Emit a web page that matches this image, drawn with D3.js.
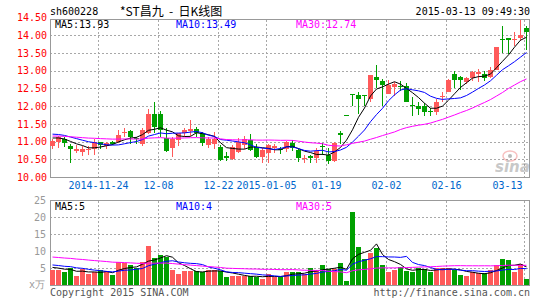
<!DOCTYPE html>
<html>
<head>
<meta charset="utf-8">
<script src="https://cdn.jsdelivr.net/npm/d3@7"></script>
<style>
body { margin: 0; background: #fff; }
text { font-family: "DejaVu Sans Mono", monospace; font-size: 10px; }
</style>
</head>
<body>
<div id="chart"></div>
<script>
// K line data (80 trading days, 2014-11-12 .. 2015-03-13)
var opens = [10.88,10.99,11.08,10.88,10.72,10.70,10.76,10.79,10.98,10.87,
  10.98,11.00,11.25,11.29,11.10,10.94,11.23,11.77,11.79,11.10,
  10.82,11.04,11.23,11.30,11.35,11.25,10.91,10.94,10.85,10.60,
  10.50,10.71,10.90,11.05,10.85,10.57,10.68,10.81,10.80,10.80,
  10.97,10.75,10.50,10.59,10.55,10.88,10.62,10.45,11.24,11.75,
  12.34,12.32,12.30,12.21,12.81,12.70,12.35,12.53,12.58,12.56,
  12.03,12.00,12.01,11.86,11.83,12.25,12.39,12.92,12.82,12.68,
  12.79,12.92,12.92,12.82,13.03,13.88,13.92,13.86,13.91,14.21];
var closes = [11.02,11.13,10.97,10.78,10.78,10.78,10.80,10.98,10.89,10.96,
  10.94,11.18,11.28,11.13,11.07,11.32,11.79,11.42,11.34,10.74,
  11.08,11.23,11.32,11.36,11.25,10.96,11.08,11.08,10.47,10.55,
  10.85,10.99,11.07,10.75,10.57,10.75,10.90,10.87,10.75,10.99,
  10.83,10.55,10.53,10.55,10.72,10.84,10.45,10.97,11.19,11.75,
  12.30,12.21,12.28,12.89,12.73,12.60,12.60,12.62,12.55,12.13,
  11.99,11.92,11.82,11.84,12.13,12.29,12.75,12.73,12.73,12.79,
  12.95,12.96,12.79,13.03,13.68,13.86,13.86,13.88,14.02,14.09];
var highs = [11.07,11.17,11.13,10.93,10.89,10.87,10.87,11.07,11.00,11.00,
  11.02,11.34,11.37,11.32,11.13,11.38,11.92,12.11,11.87,11.37,
  11.13,11.25,11.37,11.60,11.42,11.27,11.13,11.26,10.90,10.71,
  10.89,11.10,11.15,11.21,10.94,10.82,10.94,10.94,10.85,11.01,
  11.05,10.81,10.62,10.62,10.81,10.95,10.81,10.98,11.30,11.75,
  12.34,12.40,12.31,12.89,13.17,12.77,12.75,12.68,12.72,12.65,
  12.25,12.13,12.08,11.94,12.21,12.41,12.76,12.98,12.84,12.82,
  12.98,13.05,12.98,13.09,13.68,14.25,13.93,14.08,14.44,14.25];
var lows = [10.78,10.83,10.85,10.40,10.69,10.59,10.62,10.62,10.79,10.80,
  10.89,10.97,11.13,10.92,10.92,10.88,11.20,11.23,11.13,10.70,
  10.57,10.88,11.13,11.16,11.13,10.87,10.83,10.78,10.45,10.45,
  10.48,10.68,10.78,10.72,10.54,10.40,10.40,10.69,10.64,10.71,
  10.74,10.43,10.40,10.39,10.39,10.62,10.36,10.43,10.92,11.75,
  12.00,11.77,11.99,12.13,12.51,12.01,12.35,12.29,12.42,12.11,
  11.71,11.75,11.71,11.71,11.75,12.13,12.39,12.51,12.46,12.63,
  12.72,12.68,12.70,12.79,13.03,13.50,13.48,13.69,13.83,13.59];
// volume, 10k shares
var volumes = [4.4,4.4,3.8,5.1,2.6,4.6,3.2,3.8,4.3,4.0,
  2.9,6.8,6.4,5.8,4.9,6.7,11.5,8.1,8.8,8.3,
  4.4,3.2,4.1,4.1,4.0,3.9,4.4,4.4,4.1,2.3,
  2.6,2.6,2.6,2.7,2.5,1.8,3.2,2.5,2.5,3.8,
  3.9,3.9,3.3,5.0,4.4,6.0,4.8,4.6,6.5,1.3,
  21.6,11.3,7.6,9.5,10.8,5.9,3.9,4.4,5.4,4.2,
  3.9,4.9,4.6,3.9,4.9,5.1,5.1,4.4,2.9,2.6,
  3.9,3.6,3.6,4.4,5.9,7.6,7.4,3.9,6.2,1.8];

var tickIdx = [8, 18, 28, 36, 46, 56, 66, 79];
var tickLabels = ["2014-11-24", "12-08", "12-22", "2015-01-05", "01-19", "02-02", "02-16", "03-13"];
var priceTicks = [10, 10.5, 11, 11.5, 12, 12.5, 13, 13.5, 14, 14.5];
var volTicks = [5, 10, 15, 20, 25];

// moving averages, with the left edge value of each line as seed
var maDays = [5, 10, 30];
var maColors = ["#000000", "#0000ff", "#ff00ff"];
var priceSeed = [11.12, 11.23, 11.16];
var volSeed = [5.4, 6.1, 8.4];
var priceMaText = ["MA5:13.93", "MA10:13.49", "MA30:12.74"];
var volMaText = ["MA5:5", "MA10:4", "MA30:5"];

var svgWidth = 545, svgHeight = 300;
var left = 50, right = 530;

var svg = d3.select("#chart").append("svg")
  .attr("width", svgWidth)
  .attr("height", svgHeight);

var x = d3.scaleBand().domain(d3.range(closes.length)).range([left, right]);
var xLin = d3.scaleLinear().domain([0, closes.length]).range([left, right]);
var yPrice = d3.scaleLinear().domain([10, 14.5]).range([177, 17.5]);
var yVol = d3.scaleLinear().domain([0, 25]).range([285, 200.5]);

function movingAvg(vals, n, seed) {
  return vals.map(function(v, i) {
    var s = 0;
    for (var k = Math.max(0, i - n + 1); k <= i; k++) s += vals[k];
    if (i < n - 1) s += seed * (n - 1 - i);
    return s / n;
  });
}

function upColor(i) { return closes[i] > opens[i] ? "#ff5a5a" : "#00a000"; }

// ---------- grids and frames
function grid(yScale, vals, top, bottom) {
  var g = svg.append("g").attr("stroke", "#a8a8a8").attr("stroke-dasharray", "2,2")
    .attr("shape-rendering", "crispEdges");
  g.selectAll("line.h").data(vals).enter().append("line")
    .attr("x1", left).attr("x2", right)
    .attr("y1", d => Math.round(yScale(d)) + 0.5)
    .attr("y2", d => Math.round(yScale(d)) + 0.5);
  g.selectAll("line.v").data(tickIdx).enter().append("line")
    .attr("x1", d => xLin(d) + 0.5).attr("x2", d => xLin(d) + 0.5)
    .attr("y1", top).attr("y2", bottom);
}
grid(yPrice, [10.5, 11, 11.5, 12, 12.5, 13, 13.5, 14], 20, 177);
grid(yVol, [5, 10, 15, 20], 201, 285);

svg.append("rect").attr("x", left + 0.5).attr("y", 19.5).attr("width", right - left - 1).attr("height", 158)
  .attr("fill", "none").attr("stroke", "#999").attr("shape-rendering", "crispEdges");
svg.append("rect").attr("x", left + 0.5).attr("y", 200.5).attr("width", right - left - 1).attr("height", 85)
  .attr("fill", "none").attr("stroke", "#999").attr("shape-rendering", "crispEdges");

// sina watermark
var wm = svg.append("g").attr("opacity", 0.4);
wm.append("ellipse").attr("cx", 510).attr("cy", 156).attr("rx", 7).attr("ry", 5)
  .attr("fill", "none").attr("stroke", "#e66").attr("stroke-width", 1.5);
wm.append("circle").attr("cx", 510).attr("cy", 156).attr("r", 2).attr("fill", "#555");
wm.append("text").attr("x", 495).attr("y", 172).text("sina")
  .style("font-family", "DejaVu Sans").style("font-size", "15px")
  .style("font-weight", "bold").style("font-style", "italic").attr("fill", "#777");

// ---------- candles
var candles = svg.append("g").attr("shape-rendering", "crispEdges");
candles.selectAll("rect.wick").data(closes).enter().append("rect")
  .attr("x", (d, i) => x(i) + 2)
  .attr("width", 1)
  .attr("y", (d, i) => Math.round(yPrice(highs[i])))
  .attr("height", (d, i) => Math.max(1, Math.round(yPrice(lows[i])) - Math.round(yPrice(highs[i]))))
  .attr("fill", (d, i) => upColor(i));
candles.selectAll("rect.body").data(closes).enter().append("rect")
  .attr("x", (d, i) => x(i))
  .attr("width", 5)
  .attr("y", (d, i) => Math.round(yPrice(Math.max(opens[i], d))))
  .attr("height", (d, i) => Math.max(1, Math.round(yPrice(Math.min(opens[i], d))) - Math.round(yPrice(Math.max(opens[i], d)))))
  .attr("fill", (d, i) => upColor(i));

// volume bars
svg.append("g").attr("shape-rendering", "crispEdges")
  .selectAll("rect").data(volumes).enter().append("rect")
  .attr("x", (d, i) => x(i))
  .attr("width", 5)
  .attr("y", d => Math.round(yVol(d)))
  .attr("height", d => 285 - Math.round(yVol(d)))
  .attr("fill", (d, i) => upColor(i));

// MA lines
maDays.forEach(function(n, k) {
  var pm = movingAvg(closes, n, priceSeed[k]);
  var vm = movingAvg(volumes, n, volSeed[k]);
  svg.append("path").datum(pm)
    .attr("fill", "none").attr("stroke", maColors[k]).attr("stroke-width", 1)
    .attr("d", d3.line().x((d, i) => x(i) + 2.5).y(d => yPrice(d)));
  svg.append("path").datum(vm)
    .attr("fill", "none").attr("stroke", maColors[k]).attr("stroke-width", 1)
    .attr("d", d3.line().x((d, i) => x(i) + 2.5).y(d => yVol(d)));
});

// ---------- axes
var priceAxis = svg.append("g").attr("transform", `translate(${left - 2},0)`)
  .call(d3.axisLeft(yPrice).tickValues(priceTicks).tickFormat(d3.format(".2f")).tickSize(0).tickPadding(1));
priceAxis.select(".domain").remove();
priceAxis.selectAll("text").attr("fill", "#ff0000").style("font-size", "10px").style("font-family", "DejaVu Sans Mono");

var volAxis = svg.append("g").attr("transform", `translate(${left - 4},0)`)
  .call(d3.axisLeft(yVol).tickValues(volTicks).tickSize(0).tickPadding(0));
volAxis.select(".domain").remove();
volAxis.selectAll("text").attr("fill", "#999").style("font-size", "10px").style("font-family", "DejaVu Sans Mono");

var dateAxis = svg.append("g").attr("transform", "translate(0,180)")
  .call(d3.axisBottom(xLin).tickValues(tickIdx).tickFormat((d, i) => tickLabels[i]).tickSize(0).tickPadding(2));
dateAxis.select(".domain").remove();
dateAxis.selectAll("text").attr("fill", "#0066cc").style("font-size", "10px").style("font-family", "DejaVu Sans Mono");
dateAxis.selectAll(".tick").filter(d => d === tickIdx[tickIdx.length - 1])
  .select("text").attr("text-anchor", "end").attr("x", -2);

// ---------- header, legends, footer
svg.append("text").attr("x", 50).attr("y", 14.5).text("sh600228");
svg.append("text").attr("x", 120).attr("y", 15.5).text("*ST昌九  -  日K线图")
  .style("white-space", "pre")
  .style("font-family", "'Noto Sans CJK SC'").style("font-size", "12px");
svg.append("text").attr("x", 530).attr("y", 14.5).attr("text-anchor", "end").text("2015-03-13 09:49:30");

var legX = [55, 176, 296];
priceMaText.forEach(function(t, k) {
  svg.append("text").attr("x", legX[k]).attr("y", 28).attr("fill", maColors[k]).text(t);
  svg.append("text").attr("x", legX[k]).attr("y", 210).attr("fill", maColors[k]).text(volMaText[k]);
});

svg.append("text").attr("x", 29).attr("y", 288).attr("fill", "#999").text("x万");
svg.append("text").attr("x", 50).attr("y", 296).attr("fill", "#555").text("Copyright 2015 SINA.COM");
svg.append("text").attr("x", 530).attr("y", 296).attr("text-anchor", "end").attr("fill", "#555").text("http://finance.sina.com.cn");
</script>
</body>
</html>
